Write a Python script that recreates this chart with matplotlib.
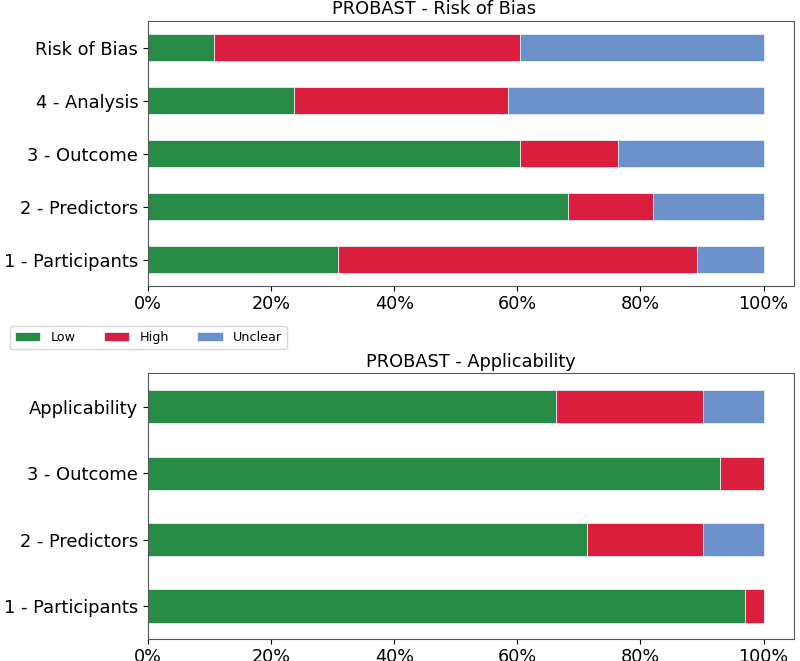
import matplotlib
matplotlib.use("Agg")
import matplotlib.pyplot as plt
from matplotlib.ticker import PercentFormatter

# данные (доли)
rob_labels = ["1 - Participants", "2 - Predictors", "3 - Outcome", "4 - Analysis", "Risk of Bias"]
rob_low = [0.308, 0.682, 0.604, 0.237, 0.108]
rob_high = [0.584, 0.139, 0.159, 0.347, 0.496]
rob_unclear = [0.108, 0.179, 0.237, 0.416, 0.396]

app_labels = ["1 - Participants", "2 - Predictors", "3 - Outcome", "Applicability"]
app_low = [0.970, 0.713, 0.929, 0.663]
app_high = [0.030, 0.188, 0.071, 0.238]
app_unclear = [0.000, 0.099, 0.000, 0.099]

colors = {"Low": "#268b45", "High": "#dc1e3e", "Unclear": "#6b91cb"}


def stacked(ax, labels, low, high, unclear, title, title_x):
    y = range(len(labels))
    left = [0.0] * len(labels)
    for name, vals in (("Low", low), ("High", high), ("Unclear", unclear)):
        ax.barh(y, vals, height=0.5, left=left, color=colors[name],
                edgecolor="#e8eef8", linewidth=0.6, label=name)
        left = [a + b for a, b in zip(left, vals)]
    ax.set_yticks(list(y))
    ax.set_yticklabels(labels, fontsize=12.9)
    ax.set_ylim(-0.5, len(labels) - 0.5)
    ax.set_xlim(0, 1.05)
    ax.set_xticks([0, 0.2, 0.4, 0.6, 0.8, 1.0])
    ax.xaxis.set_major_formatter(PercentFormatter(1.0, decimals=0))
    ax.tick_params(axis="x", labelsize=12.7, pad=2.5)
    ax.set_title(title, fontsize=12.8, pad=5, x=title_x)
    for s in ax.spines.values():
        s.set_edgecolor("#555555")


fig = plt.figure(figsize=(8, 6.61), dpi=100)
ax1 = fig.add_axes([0.185, 0.567, 0.808, 0.401])
ax2 = fig.add_axes([0.185, 0.033, 0.808, 0.402])

stacked(ax1, rob_labels, rob_low, rob_high, rob_unclear, "PROBAST - Risk of Bias", 0.443)
stacked(ax2, app_labels, app_low, app_high, app_unclear, "PROBAST - Applicability", 0.5)

handles, names = ax1.get_legend_handles_labels()
fig.legend(handles, names, loc="center left", bbox_to_anchor=(0.004, 0.489),
           ncol=3, fontsize=9.2, columnspacing=2.2, frameon=True)

fig.savefig("out.png", dpi=100)
